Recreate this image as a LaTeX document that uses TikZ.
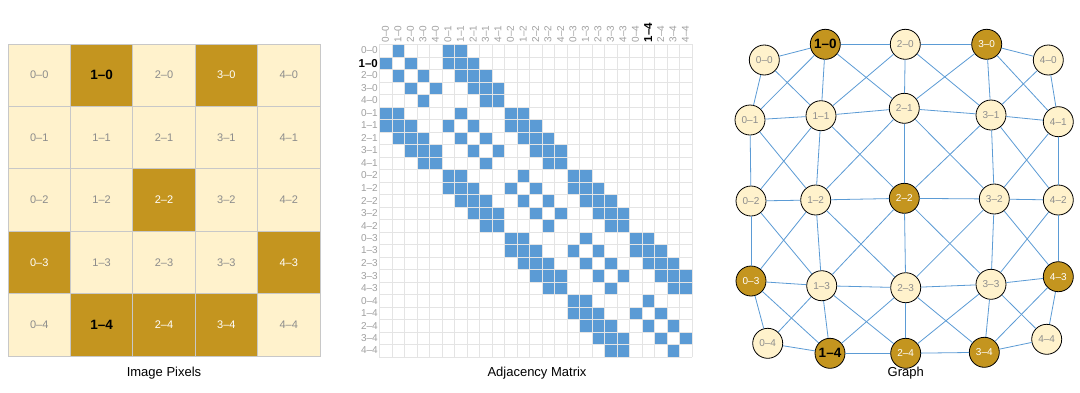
\documentclass[tikz,border=0pt]{standalone}
\usepackage{fontspec}
\setmainfont{Liberation Sans}
\usetikzlibrary{positioning}
\definecolor{gold}{HTML}{C4951F}
\definecolor{cream}{HTML}{FFF2CC}
\definecolor{cellblue}{HTML}{5B9BD5}
\definecolor{labelgray}{HTML}{8C8C8C}
\definecolor{axisgray}{HTML}{A0A0A0}
\definecolor{gridgray}{HTML}{C8C8C8}
\definecolor{linegray}{HTML}{E4E4E4}
\tikzset{
  % which cells are marked in the image
  k10/.style={marked}, k30/.style={dark}, k22/.style={dark},
  k03/.style={dark}, k43/.style={dark}, k14/.style={marked},
  k24/.style={dark}, k34/.style={dark},
  % highlighted axis labels in the matrix
  r1/.style={hot}, c21/.style={hot}
}

\begin{document}
\begin{tikzpicture}
    [x=1pt, y=-1pt,
    pixel/.style={draw=gridgray, line width=1pt, minimum size=62.4pt, inner sep=0pt, font=\fontsize{11}{13}\selectfont},
    vertex/.style={circle, draw=black, line width=0.8pt, minimum size=30pt, inner sep=0pt, font=\fontsize{10}{12}\selectfont},
    light/.style={fill=cream, text=labelgray},
    dark/.style={fill=gold, text=white},
    marked/.style={fill=gold, text=black, font=\fontsize{13.5}{15}\selectfont\bfseries},
    axislbl/.style={text=axisgray, inner sep=1pt, font=\fontsize{10}{12}\selectfont},
    hot/.style={text=black, font=\fontsize{11.5}{13}\selectfont\bfseries},
    title/.style={font=\fontsize{13}{15}\selectfont},
    link/.style={draw=cellblue, line width=0.8pt},
    mgrid/.style={draw=linegray, line width=0.6pt}]
    \useasboundingbox[fill=white] (0,0) rectangle (1080,392);

    % image pixels
    \foreach \x in {0,...,4} {
      \foreach \y in {0,...,4} {
        \node[pixel, light, k\x\y/.try] (p\x\y) at (8+62.4*\x+31.2, 44+62.4*\y+31.2) {\x--\y};
      }
    }
    \node[title] (pixtitle) at (164,373) {Image Pixels};

    % adjacency matrix
    \foreach \r in {0,...,24} {
      \foreach \c in {0,...,24} {
        \pgfmathtruncatemacro\d{max(abs(mod(\r,5)-mod(\c,5)), abs(floor(\r/5)-floor(\c/5)))}
        \ifnum\d=1 \fill[cellblue] (379.3+12.5*\c, 44.3+12.5*\r) rectangle ++(12.5,12.5); \fi
      }
    }
    \foreach \k in {0,...,25} {
      \draw[mgrid] (379.3+12.5*\k, 44.3) -- ++(0,312.5);
      \draw[mgrid] (379.3, 44.3+12.5*\k) -- ++(312.5,0);
    }
    \foreach \i in {0,...,24} {
      \pgfmathtruncatemacro\lx{mod(\i,5)}
      \pgfmathtruncatemacro\ly{floor(\i/5)}
      \node[axislbl, anchor=east, r\i/.try] (row\i) at (379, 44.3+12.5*\i+6.25) {\lx--\ly};
      \node[axislbl, anchor=west, rotate=90, c\i/.try] (col\i) at (379.3+12.5*\i+6.25, 43.5) {\lx--\ly};
    }
    \node[title] (adjtitle) at (537,373) {Adjacency Matrix};

    % graph
    \foreach \x/\y/\gx/\gy in {0/0/764.3/60, 1/0/825.3/44.3, 2/0/905.3/44.3, 3/0/986.7/44.3, 4/0/1048.3/60,
        0/1/750/120, 1/1/821/115.7, 2/1/904.3/108.3, 3/1/991/115, 4/1/1058.3/121.7,
        0/2/751/201, 1/2/815.7/200, 2/2/904.3/198.3, 3/2/994.3/199, 4/2/1058.3/200,
        0/3/751/281, 1/3/821.7/285.7, 2/3/905.7/287.7, 3/3/991/284.3, 4/3/1058.3/276.7,
        0/4/767.7/343.3, 1/4/830/353.3, 2/4/905.7/353.3, 3/4/984.3/352.3, 4/4/1046.7/339.3} {
      \node[vertex, light, k\x\y/.try] (g\x\y) at (\gx,\gy) {\x--\y};
    }
    \foreach \x in {0,...,4} {
      \foreach \y in {0,...,4} {
        \pgfmathtruncatemacro\xr{\x+1}
        \pgfmathtruncatemacro\xl{\x-1}
        \pgfmathtruncatemacro\yd{\y+1}
        \ifnum\x<4 \draw[link] (g\x\y) -- (g\xr\y); \fi
        \ifnum\y<4 \draw[link] (g\x\y) -- (g\x\yd); \fi
        \ifnum\x<4 \ifnum\y<4 \draw[link] (g\x\y) -- (g\xr\yd); \fi\fi
        \ifnum\x>0 \ifnum\y<4 \draw[link] (g\x\y) -- (g\xl\yd); \fi\fi
      }
    }
    \node[title] (graphtitle) at (905.7,372.7) {Graph};
\end{tikzpicture}
\end{document}
